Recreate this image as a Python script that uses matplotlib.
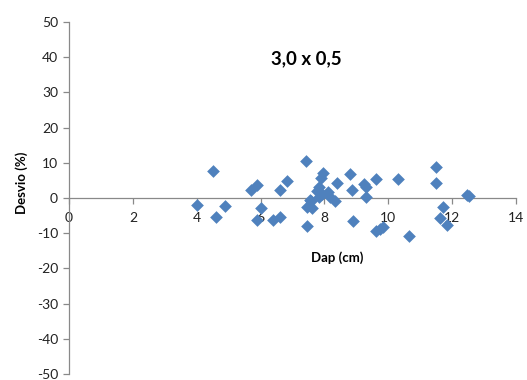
import matplotlib.pyplot as plt

# Dap (cm) vs Desvio (%)
dap = [4.0, 4.52, 4.61, 4.90, 5.70, 5.90, 6.02, 5.88, 6.40, 6.61, 6.61, 6.82,
       7.43, 7.47, 7.55, 7.45, 7.61, 7.59, 7.77, 7.82, 7.84, 7.90, 7.92, 7.97,
       8.11, 8.18, 8.32, 8.39, 8.80, 8.88, 8.90, 9.23, 9.31, 9.31, 9.62, 9.62,
       9.74, 9.83, 10.31, 10.64, 11.50, 11.50, 11.71, 11.62, 11.83, 12.47, 12.54]
desvio = [-2.0, 7.7, -5.4, -2.2, 2.4, 3.7, -2.8, -6.2, -6.2, -5.4, 2.3, 4.9,
          10.5, -8.0, -0.5, -2.6, -2.9, -0.8, 2.1, 3.0, 0.2, 5.6, 1.1, 7.1,
          1.6, 0.2, -0.8, 4.2, 6.9, 2.4, -6.5, 4.0, 3.2, 0.2, 5.5, -9.5,
          -8.8, -8.2, 5.5, -10.7, 8.9, 4.2, -2.5, -5.6, -7.7, 0.8, 0.7]

x_ticks = [0, 2, 4, 6, 8, 10, 12, 14]
y_ticks = [-50, -40, -30, -20, -10, 0, 10, 20, 30, 40, 50]

plt.rcParams['font.family'] = ['Lato', 'DejaVu Sans']
plt.rcParams['axes.unicode_minus'] = False

fig = plt.figure(figsize=(5.27, 3.80), dpi=100)
ax = fig.add_axes([0.131, 0.016, 0.848, 0.926])

ax.scatter(dap, desvio, marker='D', s=42, color='#4F81BD', zorder=3, linewidths=0)

ax.set_xlim(0, 14)
ax.set_ylim(-50, 50)
ax.set_xticks(x_ticks)
ax.set_yticks(y_ticks)

axis_col = '#898989'
ax.spines['left'].set_position(('data', 0))
ax.spines['bottom'].set_position(('data', 0))
ax.spines['top'].set_visible(False)
ax.spines['right'].set_visible(False)
for s in ('left', 'bottom'):
    ax.spines[s].set_color(axis_col)
    ax.spines[s].set_linewidth(0.9)

ax.tick_params(axis='both', colors=axis_col, labelcolor='#222222', labelsize=10,
               length=4, width=0.9, direction='out')
ax.tick_params(axis='x', pad=6)
ax.tick_params(axis='y', pad=4)

ax.text(7.43, 39.7, '3,0 x 0,5', fontsize=13.5, fontweight='bold', ha='center', va='center')
ax.text(8.4, -17, 'Dap (cm)', fontsize=9.5, fontweight='bold', ha='center', va='center')
fig.text(0.042, 0.52, 'Desvio (%)', fontsize=9.5, fontweight='bold', rotation=90,
         ha='center', va='center')

fig.savefig('out.png', dpi=100, facecolor='white')
